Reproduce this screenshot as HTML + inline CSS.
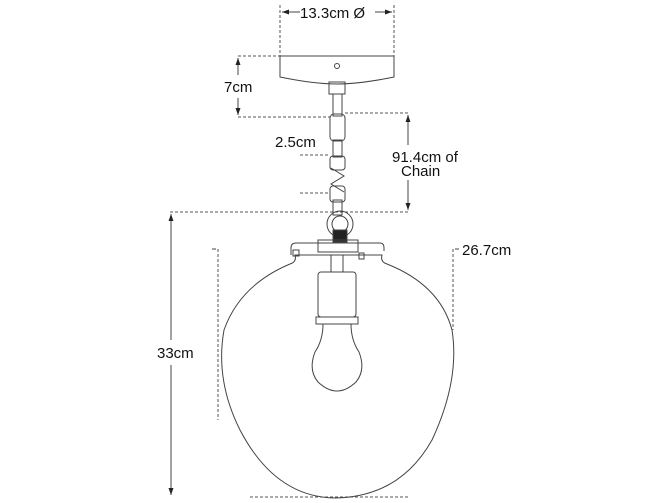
<!DOCTYPE html>
<html><head><style>body{margin:0;background:#fff}svg{display:block}text{font-family:"Liberation Sans",sans-serif;font-size:15px;fill:#111;stroke:none}</style></head><body>
<svg width="670" height="503" viewBox="0 0 670 503" fill="none" stroke="#444" stroke-width="1">
<defs><marker id="a" markerWidth="8" markerHeight="8" refX="7" refY="4" orient="auto"><path d="M0,1.5 L7,4 L0,6.5z" fill="#222" stroke="none"/></marker></defs>
<g stroke-dasharray="3,2" stroke="#555">
<line x1="280" y1="5" x2="280" y2="56"/><line x1="394" y1="5" x2="394" y2="56"/>
<line x1="238" y1="56" x2="280" y2="56"/><line x1="238" y1="117" x2="330" y2="117"/>
<line x1="345" y1="113" x2="408" y2="113"/><line x1="170" y1="212" x2="408" y2="212"/>
<line x1="300" y1="155" x2="330" y2="155"/><line x1="300" y1="193" x2="330" y2="193"/>
<line x1="218" y1="249" x2="218" y2="420"/><line x1="453" y1="249" x2="453" y2="330"/>
<line x1="250" y1="497" x2="410" y2="497"/>
</g>
<line x1="300" y1="12" x2="282" y2="12" marker-end="url(#a)"/><line x1="375" y1="12" x2="392" y2="12" marker-end="url(#a)"/>
<line x1="238" y1="75" x2="238" y2="58" marker-end="url(#a)"/><line x1="238" y1="98" x2="238" y2="115" marker-end="url(#a)"/>
<line x1="408" y1="145" x2="408" y2="115" marker-end="url(#a)"/><line x1="408" y1="180" x2="408" y2="210" marker-end="url(#a)"/>
<line x1="171" y1="340" x2="171" y2="214" marker-end="url(#a)"/><line x1="171" y1="365" x2="171" y2="495" marker-end="url(#a)"/>
<line x1="212" y1="249" x2="216" y2="249"/><line x1="455" y1="249" x2="459" y2="249"/>
<text x="300" y="18">13.3cm Ø</text>
<text x="224" y="92">7cm</text>
<text x="275" y="147">2.5cm</text>
<text x="392" y="162">91.4cm of</text><text x="401" y="176">Chain</text>
<text x="462" y="255">26.7cm</text>
<text x="157" y="358">33cm</text>
<path d="M280,56 H394 V77 Q360,84 337,84 Q314,84 280,77 Z"/>
<circle cx="337" cy="66" r="2.5"/>
<rect x="329" y="82" width="16" height="12"/>
<rect x="330" y="114" width="15" height="27" rx="4"/>
<rect x="333" y="94" width="9" height="22"/>
<rect x="333" y="140" width="9" height="17"/>
<rect x="330" y="156" width="15" height="14" rx="3"/>
<path d="M331,168 L344,176 L331,184 L344,192"/>
<rect x="330" y="186" width="15" height="16" rx="3"/>
<rect x="333" y="200" width="9" height="15"/>
<circle cx="340" cy="224" r="13"/><circle cx="340" cy="224" r="8"/>
<rect x="333" y="230" width="14" height="12" fill="#222"/>
<path d="M291,255 V248 Q291,243 296,243 H380 Q384,243 384,248 V251"/>
<rect x="318" y="240" width="40" height="12"/>
<rect x="293" y="250" width="6" height="6"/><rect x="359" y="253" width="5" height="6"/>
<path d="M295,255 Q297,262 290,264 Q240,285 224,330 Q215,380 240,430 Q275,497 335,498 Q400,497 432,440 Q460,380 452,330 Q440,285 387,264 Q380,262 382,255 Z"/>
<rect x="331" y="255" width="12" height="17"/>
<rect x="318" y="272" width="38" height="45" rx="3"/>
<rect x="316" y="317" width="42" height="7"/>
<path d="M323,324 Q323,340 315,352 Q308,370 318,382 Q337,400 356,382 Q366,370 359,352 Q351,340 351,324"/>
</svg>
</body></html>
